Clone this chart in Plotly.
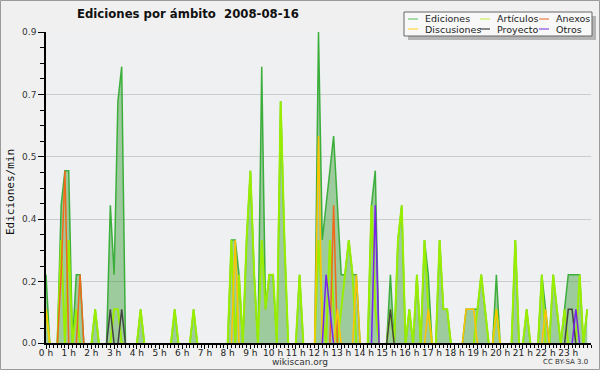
import plotly.graph_objects as go
import numpy as np

# time of each 10-minute sample, in hours
minutes = list(range(0, 1440, 10))
hours = [m / 60 for m in minutes]

ediciones = [
    0.2, 0, 0, 0, 0.4, 0.5, 0.5, 0, 0.2, 0.2, 0, 0,
    0, 0.1, 0, 0, 0, 0.4, 0.2, 0.7, 0.8, 0, 0, 0,
    0, 0.1, 0, 0, 0, 0, 0, 0, 0, 0, 0.1, 0,
    0, 0, 0, 0.1, 0, 0, 0, 0, 0, 0, 0, 0,
    0, 0.3, 0.3, 0.2, 0, 0.3, 0.5, 0.2, 0, 0.8, 0.1, 0.2,
    0.2, 0, 0.7, 0.3, 0, 0, 0, 0.2, 0, 0, 0, 0,
    0.9, 0.3, 0.4, 0.5, 0.6, 0.4, 0.2, 0.2, 0.3, 0.2, 0.2, 0,
    0, 0, 0.4, 0.5, 0, 0, 0, 0.2, 0, 0.3, 0.4, 0,
    0.1, 0, 0.2, 0, 0.3, 0.2, 0, 0, 0.3, 0.1, 0.1, 0,
    0, 0, 0, 0.1, 0.1, 0.1, 0.1, 0.2, 0.1, 0, 0, 0.2,
    0, 0, 0, 0, 0.3, 0, 0, 0.1, 0, 0, 0, 0.2,
    0.1, 0, 0.2, 0.1, 0, 0.1, 0.2, 0.2, 0.2, 0.2, 0, 0.1,
]

articulos = [
    0.1, 0, 0, 0, 0.3, 0, 0.3, 0, 0.1, 0, 0, 0,
    0, 0.1, 0, 0, 0, 0, 0.1, 0.1, 0, 0, 0, 0,
    0, 0.1, 0, 0, 0, 0, 0, 0, 0, 0, 0.1, 0,
    0, 0, 0, 0.1, 0, 0, 0, 0, 0, 0, 0, 0,
    0, 0.3, 0, 0.2, 0, 0.3, 0.5, 0.2, 0, 0.3, 0.1, 0.2,
    0.2, 0, 0.7, 0.3, 0, 0, 0, 0.2, 0, 0, 0, 0,
    0.3, 0.1, 0, 0.3, 0.1, 0, 0.1, 0.2, 0.3, 0.2, 0, 0,
    0, 0, 0.4, 0.1, 0, 0, 0, 0.1, 0, 0.3, 0.4, 0,
    0.1, 0, 0.2, 0, 0.3, 0.1, 0, 0, 0.3, 0.1, 0.1, 0,
    0, 0, 0, 0, 0, 0, 0.1, 0.2, 0.1, 0, 0, 0.1,
    0, 0, 0, 0, 0.3, 0, 0, 0.1, 0, 0, 0, 0.2,
    0, 0, 0.2, 0.1, 0, 0.1, 0, 0, 0, 0.2, 0, 0.1,
]

anexos = [0.0] * 144
for i, v in {4: 0.2, 5: 0.5, 9: 0.2, 76: 0.4}.items():
    anexos[i] = v

discusiones = [0.0] * 144
for i, v in {0: 0.1, 50: 0.3, 72: 0.6, 77: 0.1, 82: 0.2, 101: 0.1, 111: 0.1,
             112: 0.1, 113: 0.1, 119: 0.1, 132: 0.1}.items():
    discusiones[i] = v

proyecto = [0.0] * 144
for i, v in {17: 0.1, 20: 0.1, 91: 0.1, 138: 0.1, 139: 0.1}.items():
    proyecto[i] = v

otros = [0.0] * 144
for i, v in {74: 0.2, 75: 0.1, 87: 0.4, 140: 0.1}.items():
    otros[i] = v

hour_ticks = list(range(24))
hour_labels = [f"{h} h" for h in hour_ticks]
y_ticks = [0.003, 0.18, 0.36, 0.54, 0.72, 0.9]
y_labels = ["0.0", "0.2", "0.4", "0.5", "0.7", "0.9"]

series = [
    ("Ediciones", ediciones, "#3cae3c", "#8fd08f"),
    ("Artículos", articulos, "#99ee00", "#d4f07a"),
    ("Anexos", anexos, "#f06a1a", "#f0956a"),
    ("Discusiones", discusiones, "#ffc400", "#ffdc66"),
    ("Proyecto", proyecto, "#444444", "#666666"),
    ("Otros", otros, "#7a22ee", "#a070ee"),
]

fig = go.Figure()
for k, (name, vals, col, _) in enumerate(series):
    if k == 0:
        fig.add_trace(go.Scatter(x=hours, y=vals, mode="lines", name=name,
                                 line=dict(color=col, width=1.5),
                                 fill="tozeroy", fillcolor="rgba(60,160,60,0.46)"))
    else:
        fig.add_trace(go.Scatter(x=hours, y=vals, mode="lines", name=name,
                                 line=dict(color=col, width=2 if k == 1 else 1.5)))

L, R, T, B = 46, 9, 32, 27
W, H = 600, 370
pw, ph = W - L - R, H - T - B


def px(X):
    return (X - L) / pw


def py(Y):
    return (H - B - Y) / ph


shapes = []
annotations = []
# outer border
shapes.append(dict(type="rect", xref="paper", yref="paper", x0=px(0.5), x1=px(W - 0.5),
                   y0=py(H - 0.5), y1=py(0.5), line=dict(color="#9a9a9a", width=1)))
# legend box with shadow
shapes.append(dict(type="rect", xref="paper", yref="paper", x0=px(408), x1=px(596),
                   y0=py(40), y1=py(16), line=dict(width=0), fillcolor="#b4b4b4"))
shapes.append(dict(type="rect", xref="paper", yref="paper", x0=px(404), x1=px(592),
                   y0=py(36), y1=py(12), line=dict(color="#666666", width=1), fillcolor="#f8f8f8"))
leg_pos = [(408, 19), (480, 19), (539, 19), (408, 29), (480, 29), (539, 29)]
leg_order = [0, 1, 2, 3, 4, 5]
for (lx, ly), k in zip(leg_pos, leg_order):
    name, _, _, lcol = series[k]
    shapes.append(dict(type="line", xref="paper", yref="paper", x0=px(lx), x1=px(lx + 10),
                       y0=py(ly), y1=py(ly), line=dict(color=lcol, width=1.5)))
    annotations.append(dict(xref="paper", yref="paper", x=px(lx + 15), y=py(ly),
                            text=name, showarrow=False, xanchor="left", yanchor="middle",
                            font=dict(family="DejaVu Sans", size=9.5, color="#222222")))

annotations.append(dict(xref="paper", yref="paper", x=px(188), y=py(14),
                        text="Ediciones por ámbito\u00a0\u00a02008-08-16", showarrow=False,
                        xanchor="center", yanchor="middle",
                        font=dict(family="DejaVu Sans", size=11.7, color="#111111", weight="bold")))
annotations.append(dict(xref="paper", yref="paper", x=px(10), y=py(192),
                        text="Ediciones/min", showarrow=False, textangle=-90,
                        xanchor="center", yanchor="middle",
                        font=dict(family="DejaVu Sans Mono", size=11, color="#111111")))
annotations.append(dict(xref="paper", yref="paper", x=px(300), y=py(362),
                        text="wikiscan.org", showarrow=False, xanchor="center", yanchor="middle",
                        font=dict(family="DejaVu Sans", size=9, color="#333333")))
annotations.append(dict(xref="paper", yref="paper", x=px(590), y=py(362),
                        text="CC BY-SA 3.0", showarrow=False, xanchor="right", yanchor="middle",
                        font=dict(family="DejaVu Sans", size=7, color="#333333")))

fig.update_layout(
    width=W, height=H,
    margin=dict(l=L, r=R, t=T, b=B, pad=0),
    paper_bgcolor="#f0f0f0",
    plot_bgcolor="#eef0f1",
    showlegend=False,
    shapes=shapes,
    annotations=annotations,
    xaxis=dict(range=[0, 24], tickmode="array", tickvals=hour_ticks, ticktext=hour_labels,
               ticks="outside", ticklen=4, tickwidth=1, tickcolor="#000",
               ticklabelstandoff=-4,
               showline=True, linecolor="#000", linewidth=2, showgrid=False, zeroline=False,
               tickfont=dict(family="DejaVu Sans", size=9, color="#222"),
               minor=dict(tickmode="array", tickvals=list(np.arange(0, 24.01, 1 / 6)),
                          ticks="outside", ticklen=3, tickcolor="#000", showgrid=False)),
    yaxis=dict(range=[0.003, 0.9], tickmode="array", tickvals=y_ticks, ticktext=y_labels,
               ticks="outside", ticklen=6, tickwidth=1, tickcolor="#000",
               showline=True, linecolor="#000", linewidth=1.5, showgrid=True,
               gridcolor="#cccccc", gridwidth=1, zeroline=False,
               tickfont=dict(family="DejaVu Sans", size=9, color="#333"),
               minor=dict(tickmode="array",
                          tickvals=[0.003] + list(np.arange(0.045, 0.901, 0.045)),
                          ticks="outside", ticklen=4, tickcolor="#000", showgrid=False)),
)

fig.write_html("out.html", config={"displayModeBar": False},
               post_script="document.body.style.margin='0';document.body.style.padding='0';")
